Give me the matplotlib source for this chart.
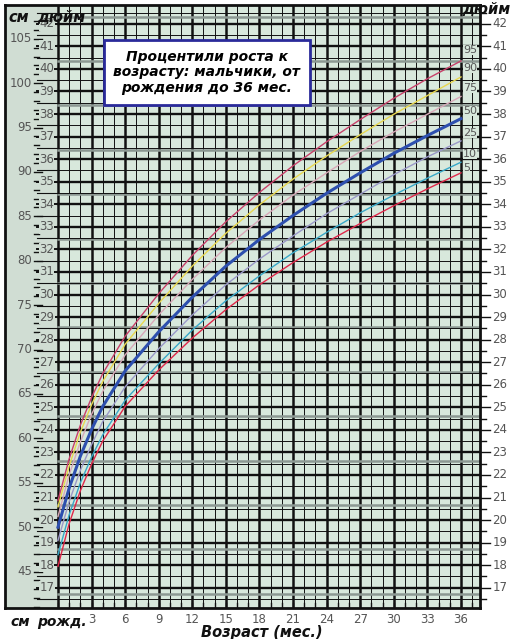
import matplotlib
matplotlib.use("Agg")
import matplotlib.pyplot as plt
import numpy as np

months = [0, 1, 2, 3, 4, 6, 9, 12, 15, 18, 21, 24, 27, 30, 33, 36]
p95 = [53.0, 57.7, 61.5, 64.6, 67.3, 71.5, 76.3, 80.6, 84.4, 87.7, 90.7, 93.4, 95.9, 98.3, 100.5, 102.5]
p90 = [52.3, 56.9, 60.7, 63.8, 66.4, 70.6, 75.2, 79.4, 83.1, 86.3, 89.2, 91.8, 94.2, 96.5, 98.6, 100.7]
p75 = [51.2, 55.9, 59.6, 62.7, 65.3, 69.4, 73.9, 77.9, 81.5, 84.6, 87.4, 89.9, 92.3, 94.5, 96.5, 98.5]
p50 = [50.0, 54.4, 58.0, 61.0, 63.6, 67.6, 72.0, 75.9, 79.4, 82.4, 85.1, 87.6, 89.9, 92.1, 94.1, 96.0]
p25 = [48.5, 52.9, 56.4, 59.3, 61.9, 65.8, 70.1, 73.9, 77.3, 80.2, 82.8, 85.3, 87.5, 89.7, 91.7, 93.5]
p10 = [46.9, 51.4, 55.0, 57.9, 60.4, 64.3, 68.4, 72.2, 75.5, 78.3, 80.9, 83.2, 85.4, 87.4, 89.3, 91.1]
p5 = [45.6, 50.4, 54.1, 57.1, 59.7, 63.6, 67.7, 71.3, 74.5, 77.3, 79.8, 82.1, 84.2, 86.2, 88.1, 89.9]
pct_labels = ["95", "90", "75", "50", "25", "10", "5"]
series = [p95, p90, p75, p50, p25, p10, p5]
colors = ["#c8406a", "#e8d850", "#d8a8b8", "#2d4fae", "#9a98c8", "#38a8c8", "#e0284a"]
widths = [1.0, 1.0, 1.0, 2.2, 1.0, 1.0, 1.0]
label_dy = [0.3, 0.1, 0.1, 0.0, 0.0, 0.0, -0.3]

cm_ticks = list(range(45, 106, 5))
inch_ticks = list(range(17, 43))
month_ticks = list(range(3, 37, 3))

W, H = 513, 639
fig = plt.figure(figsize=(W / 100, H / 100), dpi=100)
fig.patch.set_facecolor("white")
x0, x1, yb, yt = 5, 480, 608, 5
ax = fig.add_axes([x0 / W, 1 - yb / H, (x1 - x0) / W, (yb - yt) / H])
xmin, xmax = -53 / 11.2, 37.7
ymin, ymax = 40.9, 108.8
ax.set_xlim(xmin, xmax)
ax.set_ylim(ymin, ymax)
ax.set_facecolor("#d8e8dc")
ax.axvspan(xmin, 0, color="#d0ddd3", zorder=0)
for s in ax.spines.values():
    s.set_linewidth(2)
    s.set_color("#111111")
ax.set_xticks([]); ax.set_yticks([])

# grid
for m in range(0, 38):
    thick = (m % 3 == 0)
    ax.plot([m, m], [ymin, ymax], color="#111111", lw=1.8 if thick else 0.7, zorder=1)
    ax.plot([m, m], [ymin, ymin + 0.6], color="#111111", lw=1, zorder=1)
for c in np.arange(42.5, 108, 5):
    ax.plot([0, xmax], [c, c], color="#8c9892", lw=1.8, zorder=1)
ihalf = np.arange(16.5, 43, 0.5)
for i in ihalf:
    y = i * 2.54
    if y < ymin or y > ymax:
        continue
    whole = float(i).is_integer()
    ax.plot([0, xmax], [y, y], color="#111111", lw=1.7 if whole else 0.7, zorder=1)
    ax.plot([-1.9, 0], [y, y], color="#111111", lw=1.4 if whole else 0.8, zorder=1)
# left inch labels
for i in inch_ticks:
    ax.text(-1.0, i * 2.54, str(i), ha="center", va="center", fontsize=8.5,
            color="#555555", zorder=3,
            bbox=dict(facecolor="#d0ddd3", edgecolor="none", pad=0.2))
# cm labels and ticks
for c in range(41, 108):
    ax.plot([-2.1, -1.7 if c % 5 else -1.4], [c, c], color="#111111", lw=1, zorder=2)
for c in cm_ticks:
    ax.text(-2.3, c, str(c), ha="right", va="center", fontsize=8.5, color="#555555", zorder=3)
# right inch labels
for i in inch_ticks:
    y = i * 2.54
    ax.plot([xmax, xmax + 0.9], [y, y], color="#111111", lw=1, clip_on=False)
    ax.text(xmax + 1.1, y, str(i), ha="left", va="center", fontsize=8.5, color="#555555", clip_on=False)
for i in ihalf:
    y = i * 2.54
    if ymin < y < ymax and not float(i).is_integer():
        ax.plot([xmax, xmax + 0.5], [y, y], color="#111111", lw=1, clip_on=False)

# curves
for s, c, w, lab, dy in zip(series, colors, widths, pct_labels, label_dy):
    ax.plot(months, s, color=c, lw=w, zorder=4)
    ax.text(36.2, s[-1] + 0.9 + dy, lab, fontsize=8, color="#555555", ha="left", va="center", zorder=5,
            bbox=dict(facecolor="#d8e8dc", edgecolor="none", pad=0.1))

# month labels
for m in month_ticks:
    ax.text(m, ymin - 0.6, str(m), ha="center", va="top", fontsize=8.5, color="#555555", clip_on=False)

bi = dict(fontweight="bold", fontstyle="italic", color="#111111")
fig.text(8 / W, 1 - 17 / H, "см", fontsize=10.5, va="center", **bi)
fig.text(37 / W, 1 - 17 / H, "дюйм", fontsize=10.5, va="center", **bi)
fig.text(462 / W, 1 - 10 / H, "дюйм", fontsize=10.5, va="center", **bi)
fig.text(10 / W, 1 - 622 / H, "см", fontsize=10, va="center", **bi)
fig.text(37 / W, 1 - 622 / H, "рожд.", fontsize=10, va="center", **bi)
fig.text(262 / W, 1 - 632 / H, "Возраст (мес.)", fontsize=10.5, ha="center", va="center", **bi)

# title box
ax.text(13.3, 101.2, "Процентили роста к\nвозрасту: мальчики, от\nрождения до 36 мес.",
        ha="center", va="center", fontsize=10, fontweight="bold", fontstyle="italic",
        linespacing=1.15, zorder=6,
        bbox=dict(facecolor="white", edgecolor="#2a2a9a", lw=2, boxstyle="square,pad=0.7"))

fig.savefig("out.png", dpi=100)
